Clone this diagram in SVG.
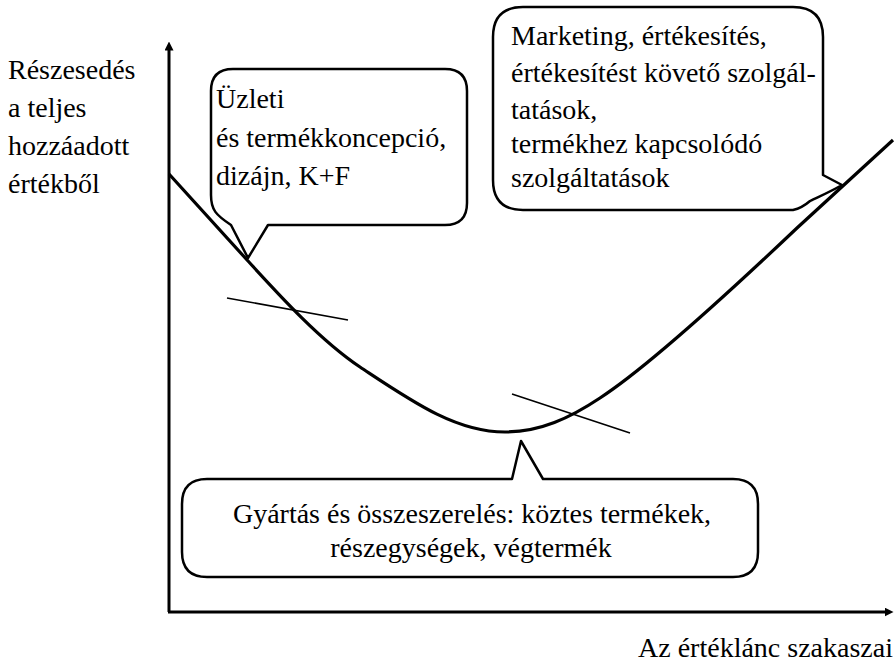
<svg xmlns="http://www.w3.org/2000/svg" width="896" height="664" viewBox="0 0 896 664">
<style>
.t{font-size:28px;fill:#000}
.callout{fill:#fff;stroke:#000;stroke-width:2.5;stroke-linejoin:round}
.axis{fill:none;stroke:#000;stroke-width:3}
.curve{fill:none;stroke:#000;stroke-width:3.2;stroke-linejoin:round}
.tan{fill:none;stroke:#000;stroke-width:1.6}
</style>
<defs>
<marker id="ah" viewBox="0 0 10 10" refX="5" refY="5" markerWidth="3" markerHeight="3" orient="auto">
<path d="M0,0 L10,5 L0,10 Z" fill="#000"/>
</marker>
</defs>
<rect width="896" height="664" fill="#fff"/>
<g id="connectors">
<path class="axis" d="M169,612 V46" marker-end="url(#ah)"/>
<path class="axis" d="M168,612 H889" marker-end="url(#ah)"/>
<path class="curve" d="M169,174 L248,261 C280,296 320,340 360,367 C410,400 455,432 505,432 C540,432 570,418 600,398 C640,372 700,320 797,228 L893,140"/>
<path class="tan" d="M227,298 L348,320"/>
<path class="tan" d="M512,394 L630,433"/>
</g>
<g id="yLabel" class="t" font-family="Liberation Serif, Times New Roman, serif">
<text x="8" y="79">Részesedés</text>
<text x="8" y="117">a teljes</text>
<text x="8" y="155">hozzáadott</text>
<text x="8" y="193">értékből</text>
</g>
<g id="xLabel" class="t" font-family="Liberation Serif, Times New Roman, serif">
<text x="893" y="657" text-anchor="end">Az értéklánc szakaszai</text>
</g>
<g id="callout-design">
<path class="callout" d="M233,69 H445 Q467,69 467,91 V203 Q467,225 445,225 H268 L248,258 L231,225 C216,215 211,210 211,195 V91 Q211,69 233,69 Z"/>
<g class="t" font-family="Liberation Serif, Times New Roman, serif">
<text x="216" y="108">Üzleti</text>
<text x="216" y="147">és termékkoncepció,</text>
<text x="216" y="185">dizájn, K+F</text>
</g>
</g>
<g id="callout-marketing">
<path class="callout" d="M523,7 H793 Q823,7 823,37 V175 L842,185 C830,192 818,197 810,201 Q802,208 793,210 H523 Q493,210 493,180 V37 Q493,7 523,7 Z"/>
<g class="t" font-family="Liberation Serif, Times New Roman, serif">
<text x="511" y="45">Marketing, értékesítés,</text>
<text x="511" y="82">értékesítést követő szolgál-</text>
<text x="511" y="119">tatások,</text>
<text x="511" y="153">termékhez kapcsolódó</text>
<text x="511" y="187">szolgáltatások</text>
</g>
</g>
<g id="callout-manufacturing">
<path class="callout" d="M207,479 H512 L521,441 L543,479 H733 Q758,479 758,504 V552 Q758,577 733,577 H207 Q182,577 182,552 V504 Q182,479 207,479 Z"/>
<g class="t" font-family="Liberation Serif, Times New Roman, serif">
<text x="472" y="523" text-anchor="middle">Gyártás és összeszerelés: köztes termékek,</text>
<text x="471" y="557" text-anchor="middle">részegységek, végtermék</text>
</g>
</g>
</svg>
